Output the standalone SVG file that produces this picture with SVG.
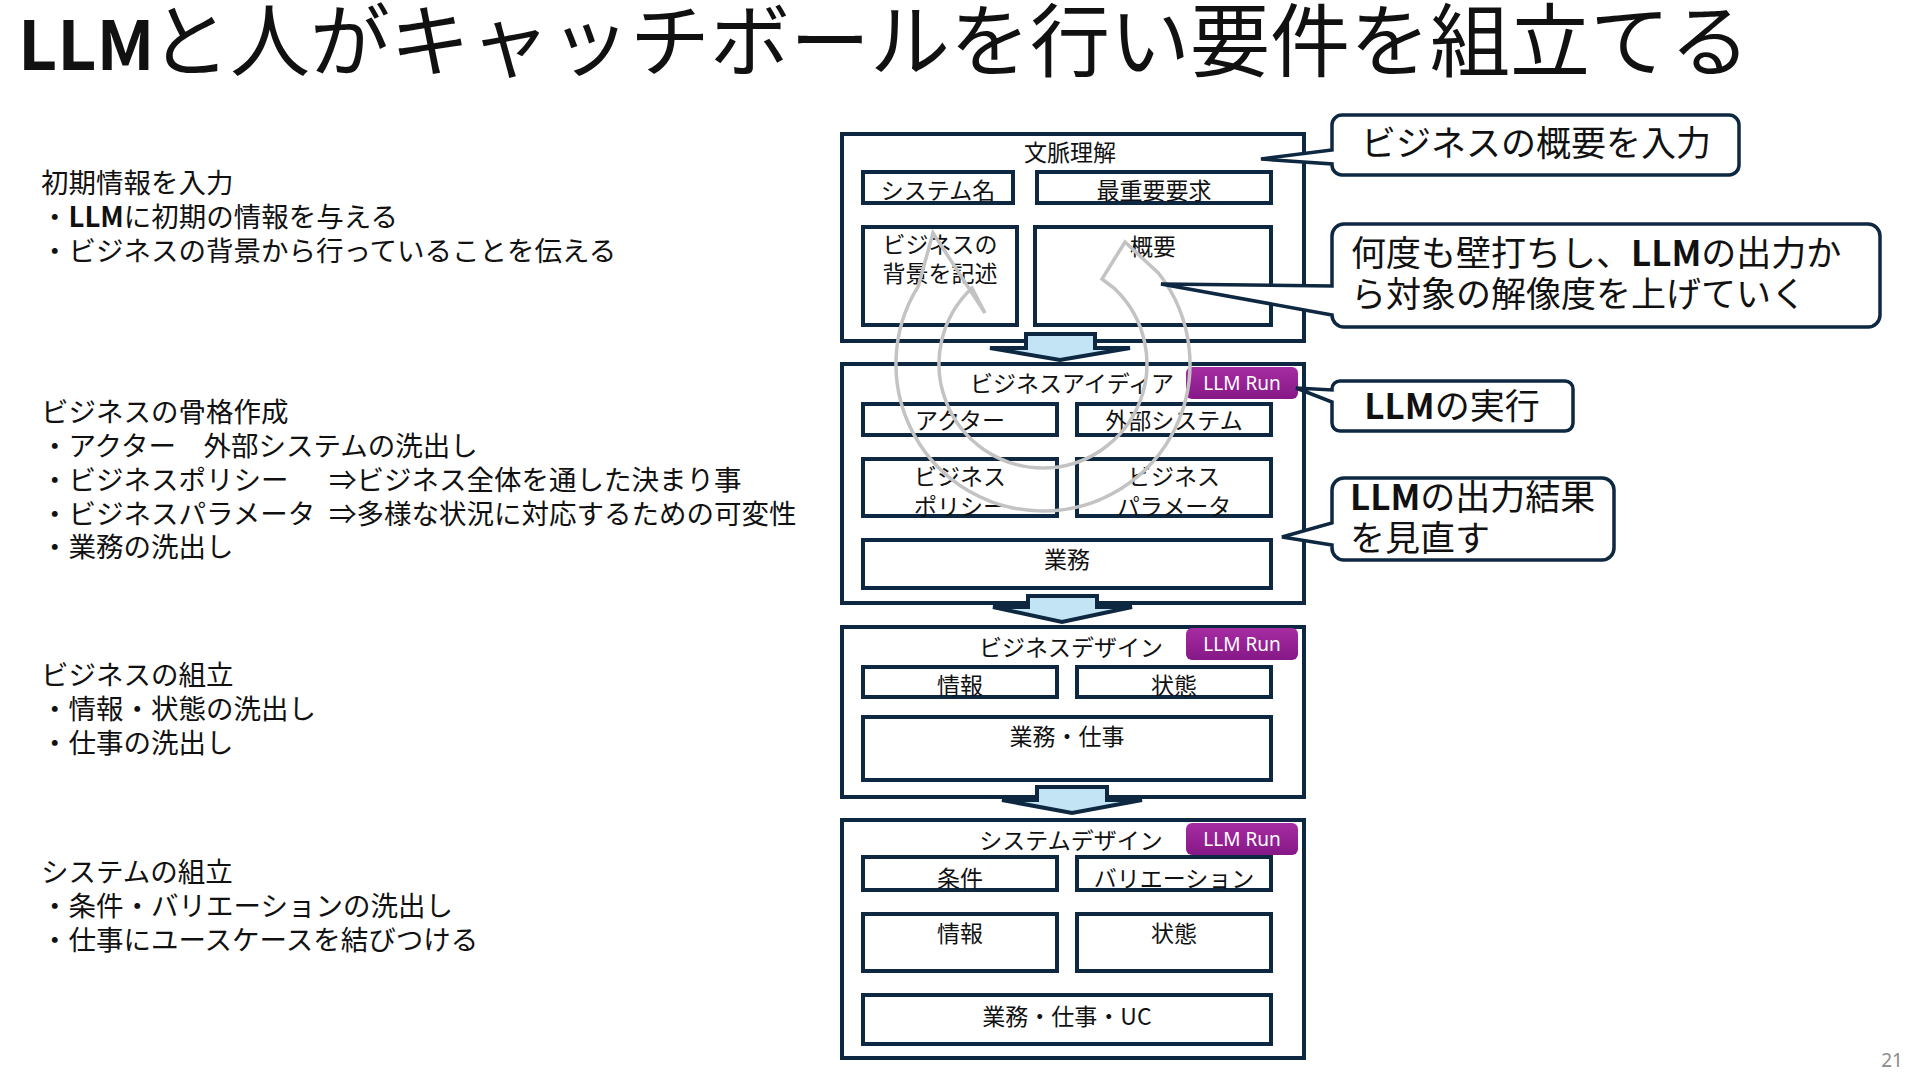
<svg xmlns="http://www.w3.org/2000/svg" width="1920" height="1080" viewBox="0 0 1920 1080">
<defs>
<style>
text{font-family:"Noto Sans CJK JP","Noto Sans",sans-serif;fill:#111;}
.title{font-size:80px;}
.note{font-size:27.5px;}
.bt{font-size:23px;text-anchor:middle;}
.ct{font-size:35px;}
.b{font-weight:bold;}
.stage{fill:#fff;stroke:#0E2841;stroke-width:4;}
.inner{fill:#fff;stroke:#0E2841;stroke-width:4;}
.badge{fill:url(#purp);}
.badgeT{font-family:"Noto Sans","Noto Sans CJK JP",sans-serif;font-size:19px;fill:#fff;text-anchor:middle;}
.flow{fill:#C2E4F4;stroke:#0E2841;stroke-width:4;stroke-linejoin:miter;}
.callout{fill:#fff;stroke:#0E2841;stroke-width:3.5;stroke-linejoin:miter;}
.cyc{fill:none;stroke:#c3c3c3;stroke-width:3.5;stroke-linejoin:miter;}
</style>
<linearGradient id="purp" x1="0" y1="0" x2="0" y2="1">
<stop offset="0" stop-color="#a62ca2"/>
<stop offset="1" stop-color="#861887"/>
</linearGradient>
</defs>
<rect width="1920" height="1080" fill="#fff"/>

<g id="title">
<text class="title" y="70"><tspan x="18" class="b" font-size="68">LLM</tspan><tspan x="150">と人がキャッチボールを行い要件を組立てる</tspan></text>
</g>

<g id="notes">
<g id="note-initial">
<text class="note" x="41" y="193">初期情報を入力</text>
<text class="note" x="41" y="227">・<tspan class="b">LLM</tspan>に初期の情報を与える</text>
<text class="note" x="41" y="261">・ビジネスの背景から行っていることを伝える</text>
</g>
<g id="note-skeleton">
<text class="note" x="41" y="422">ビジネスの骨格作成</text>
<text class="note" x="41" y="456">・アクター　外部システムの洗出し</text>
<text class="note" x="41" y="490">・ビジネスポリシー<tspan x="329">⇒ビジネス全体を通した決まり事</tspan></text>
<text class="note" x="41" y="524">・ビジネスパラメータ<tspan x="329">⇒多様な状況に対応するための可変性</tspan></text>
<text class="note" x="41" y="557">・業務の洗出し</text>
</g>
<g id="note-business">
<text class="note" x="41" y="685">ビジネスの組立</text>
<text class="note" x="41" y="719">・情報・状態の洗出し</text>
<text class="note" x="41" y="753">・仕事の洗出し</text>
</g>
<g id="note-system">
<text class="note" x="41" y="882">システムの組立</text>
<text class="note" x="41" y="916">・条件・バリエーションの洗出し</text>
<text class="note" x="41" y="950">・仕事にユースケースを結びつける</text>
</g>
</g>

<g id="stage-context">
<rect class="stage" x="842" y="134" width="462" height="207"/>
<text class="bt" x="1070" y="160.5">文脈理解</text>
<g id="ctx-system-name"><rect class="inner" x="863" y="172" width="150" height="31"/><text class="bt" x="938" y="198.5">システム名</text></g>
<g id="ctx-top-req"><rect class="inner" x="1037" y="172" width="234" height="31"/><text class="bt" x="1154" y="198.5">最重要要求</text></g>
<g id="ctx-background"><rect class="inner" x="863" y="227" width="154" height="98"/><text class="bt" x="940" y="252.5">ビジネスの</text><text class="bt" x="940" y="281.5">背景を記述</text></g>
<g id="ctx-summary"><rect class="inner" x="1035" y="227" width="236" height="98"/><text class="bt" x="1153" y="254.5">概要</text></g>
</g>

<g id="stage-idea">
<rect class="stage" x="842" y="364" width="462" height="239"/>
<text class="bt" x="1072" y="392">ビジネスアイディア</text>
<g id="idea-badge"><rect class="badge" x="1186" y="367" width="112" height="32" rx="6"/><text class="badgeT" x="1242" y="390">LLM Run</text></g>
<g id="idea-actor"><rect class="inner" x="863" y="404" width="194" height="31"/><text class="bt" x="960" y="428.5">アクター</text></g>
<g id="idea-external"><rect class="inner" x="1077" y="404" width="194" height="31"/><text class="bt" x="1174" y="428.5">外部システム</text></g>
<g id="idea-policy"><rect class="inner" x="863" y="459" width="194" height="57"/><text class="bt" x="960" y="484.5">ビジネス</text><text class="bt" x="960" y="514.5">ポリシー</text></g>
<g id="idea-param"><rect class="inner" x="1077" y="459" width="194" height="57"/><text class="bt" x="1174" y="484.5">ビジネス</text><text class="bt" x="1174" y="514.5">パラメータ</text></g>
<g id="idea-work"><rect class="inner" x="863" y="540" width="408" height="48"/><text class="bt" x="1067" y="567.5">業務</text></g>
</g>

<g id="stage-bizdesign">
<rect class="stage" x="842" y="627" width="462" height="170"/>
<text class="bt" x="1071" y="655.5">ビジネスデザイン</text>
<g id="bd-badge"><rect class="badge" x="1186" y="628" width="112" height="32" rx="6"/><text class="badgeT" x="1242" y="651">LLM Run</text></g>
<g id="bd-info"><rect class="inner" x="863" y="667" width="194" height="30"/><text class="bt" x="960" y="693.5">情報</text></g>
<g id="bd-state"><rect class="inner" x="1077" y="667" width="194" height="30"/><text class="bt" x="1174" y="693.5">状態</text></g>
<g id="bd-work"><rect class="inner" x="863" y="717" width="408" height="63"/><text class="bt" x="1067" y="744.5">業務・仕事</text></g>
</g>

<g id="stage-sysdesign">
<rect class="stage" x="842" y="820" width="462" height="238"/>
<text class="bt" x="1071" y="848.5">システムデザイン</text>
<g id="sd-badge"><rect class="badge" x="1186" y="823" width="112" height="32" rx="6"/><text class="badgeT" x="1242" y="846">LLM Run</text></g>
<g id="sd-cond"><rect class="inner" x="863" y="857" width="194" height="33"/><text class="bt" x="960" y="886.5">条件</text></g>
<g id="sd-var"><rect class="inner" x="1077" y="857" width="194" height="33"/><text class="bt" x="1174" y="886.5">バリエーション</text></g>
<g id="sd-info"><rect class="inner" x="863" y="914" width="194" height="57"/><text class="bt" x="960" y="941.5">情報</text></g>
<g id="sd-state"><rect class="inner" x="1077" y="914" width="194" height="57"/><text class="bt" x="1174" y="941.5">状態</text></g>
<g id="sd-uc"><rect class="inner" x="863" y="995" width="408" height="49"/><text class="bt" x="1067" y="1024.5">業務・仕事・UC</text></g>
</g>

<g id="connectors">
<path class="flow" d="M1026,334 H1095 V348 H1130 L1060,360 L990,348 H1026 Z"/>
<path class="flow" d="M1028,596 H1097 V607 H1132 L1062,622 L993,607 H1028 Z"/>
<path class="flow" d="M1037,787 H1107 V800 H1142 L1072,813 L1002,800 H1037 Z"/>
<path class="cyc" d="M1043,511 A147,147 0 0 1 918.3,286.1 L933,233 L985,313 L972,288 A104,104 0 0 0 1043,468"/>
<path class="cyc" d="M1043,511 A147,147 0 0 0 1158.8,273.5 L1125,242 L1102,279 L1115.2,289.2 A104,104 0 0 1 1043,468"/>
</g>

<g id="callout-input">
<path class="callout" d="M1342,115 H1729 A10,10 0 0 1 1739,125 V165 A10,10 0 0 1 1729,175 H1342 A10,10 0 0 1 1332,165 V164 L1261,159 L1332,150 V125 A10,10 0 0 1 1342,115 Z"/>
<text class="ct" x="1536" y="156" text-anchor="middle">ビジネスの概要を入力</text>
</g>
<g id="callout-iterate">
<path class="callout" d="M1344,224 H1868 A12,12 0 0 1 1880,236 V315 A12,12 0 0 1 1868,327 H1344 A12,12 0 0 1 1332,315 L1161,284 L1332,286 V236 A12,12 0 0 1 1344,224 Z"/>
<text class="ct" x="1351" y="266">何度も壁打ちし、<tspan class="b">LLM</tspan>の出力か</text>
<text class="ct" x="1351" y="307">ら対象の解像度を上げていく</text>
</g>
<g id="callout-run">
<path class="callout" d="M1340,381 H1565 A8,8 0 0 1 1573,389 V423 A8,8 0 0 1 1565,431 H1340 A8,8 0 0 1 1332,423 V402 L1296,388 L1332,390 V389 A8,8 0 0 1 1340,381 Z"/>
<text class="ct" x="1452" y="418.5" text-anchor="middle"><tspan class="b">LLM</tspan>の実行</text>
</g>
<g id="callout-review">
<path class="callout" d="M1344,478 H1602 A12,12 0 0 1 1614,490 V548 A12,12 0 0 1 1602,560 H1344 A12,12 0 0 1 1332,548 V545 L1282,537 L1332,523 V490 A12,12 0 0 1 1344,478 Z"/>
<text class="ct" x="1350" y="509.5"><tspan class="b">LLM</tspan>の出力結果</text>
<text class="ct" x="1350" y="550.5">を見直す</text>
</g>

<text x="1892" y="1067" font-size="19" text-anchor="middle" style="fill:#8c8c8c;font-family:'Noto Sans',sans-serif">21</text>
</svg>
